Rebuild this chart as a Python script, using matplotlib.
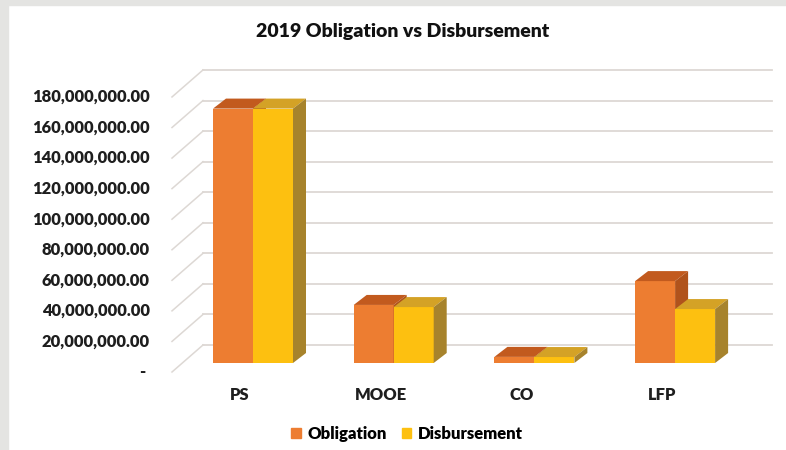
import matplotlib
matplotlib.use("Agg")
import matplotlib.pyplot as plt
from matplotlib.patches import Polygon, Rectangle
import numpy as np

plt.rcParams['font.family'] = ['Lato', 'DejaVu Sans']
plt.rcParams['font.weight'] = 'bold'

# data
categories = ['PS', 'MOOE', 'CO', 'LFP']
obligation = [166.5e6, 38.0e6, 4.0e6, 53.6e6]
disbursement = [166.5e6, 36.6e6, 3.9e6, 35.3e6]
ticks = np.arange(0, 180e6 + 1, 20e6)

# colours (front, top, side)
obl_cols = ('#ED7D31', '#C25A1E', '#B0531C')
dis_cols = ('#FDC010', '#D4A226', '#A7832C')

# pixel helpers: one category = 140.7 px, 20M = 30.56 px
KX = 140.7
KY = 20e6 / 30.56
def px(d):
    return d / KX
def py(d):
    return d * KY

fig = plt.figure(figsize=(7.86, 4.5), dpi=100)
fig.patch.set_facecolor('white')
ax = fig.add_axes([0, 0, 1, 1])
ax.set_xlim(-253 / KX, (786 - 253) / KX)
ax.set_ylim(-87 * KY, 363 * KY)
ax.axis('off')

# faded slide border
fig.patches.append(Rectangle((0, 0), 8 / 786, 1, transform=fig.transFigure,
                             color='#E4E4E2', zorder=0))
fig.patches.append(Rectangle((0, 1 - 5 / 450), 1, 5 / 450, transform=fig.transFigure,
                             color='#E4E4E2', zorder=0))

# back wall gridlines and floor diagonals
x_back0 = ax.get_xlim()[0] + px(203)
x_back1 = ax.get_xlim()[0] + px(772)
x_front = ax.get_xlim()[0] + px(172)
for v in ticks:
    yb = v + py(18)
    yf = v - py(9)
    ax.plot([x_back0, x_back1], [yb, yb], color='#DDD8D4', lw=1.3, zorder=1)
    ax.plot([x_front, x_back0], [yf, yb], color='#DDD8D4', lw=1.1, zorder=1)
    lab = '-' if v == 0 else f'{v:,.2f}'
    xl = ax.get_xlim()[0] + px(145 if v == 0 else 150)
    ax.text(xl, yf, lab, ha='right', va='center', fontsize=11.9,
            color='#1E1E1E', fontweight='heavy')

bw = px(40)
ddx = px(13)
ddy = py(10)

def draw_box(x0, h, cols, z):
    ax.bar(x0, h, width=bw, align='edge', color=cols[0], zorder=z, linewidth=0)
    top = Polygon([(x0, h), (x0 + bw, h), (x0 + bw + ddx, h + ddy), (x0 + ddx, h + ddy)],
                  closed=True, facecolor=cols[1], edgecolor='none', zorder=z)
    side = Polygon([(x0 + bw, 0), (x0 + bw + ddx, ddy), (x0 + bw + ddx, h + ddy), (x0 + bw, h)],
                   closed=True, facecolor=cols[2], edgecolor='none', zorder=z)
    ax.add_patch(top)
    ax.add_patch(side)

xs = np.arange(len(categories))
for i, c in enumerate(xs):
    draw_box(c - bw, obligation[i], obl_cols, 2 + 2 * i)
    draw_box(c, disbursement[i], dis_cols, 3 + 2 * i)
    ax.text(c - px(13), py(-32), categories[i], ha='center', va='center',
            fontsize=11.9, color='#1E1E1E', fontweight='heavy')

# legend
h1 = Rectangle((0, 0), 1, 1, color=obl_cols[0])
h2 = Rectangle((0, 0), 1, 1, color=dis_cols[0])
ax.legend([h1, h2], ['Obligation', 'Disbursement'], loc='center',
          bbox_to_anchor=(407 / 786, 16 / 450), ncol=2, frameon=False,
          handlelength=0.55, handleheight=0.55, handletextpad=0.4,
          columnspacing=0.9, prop={'weight': 'heavy', 'size': 12})

fig.text(403 / 786, 1 - 32 / 450, '2019 Obligation vs Disbursement', ha='center',
         va='center', fontsize=14, fontweight='heavy', color='#111111')

fig.savefig('out.png', dpi=100, facecolor='white')
